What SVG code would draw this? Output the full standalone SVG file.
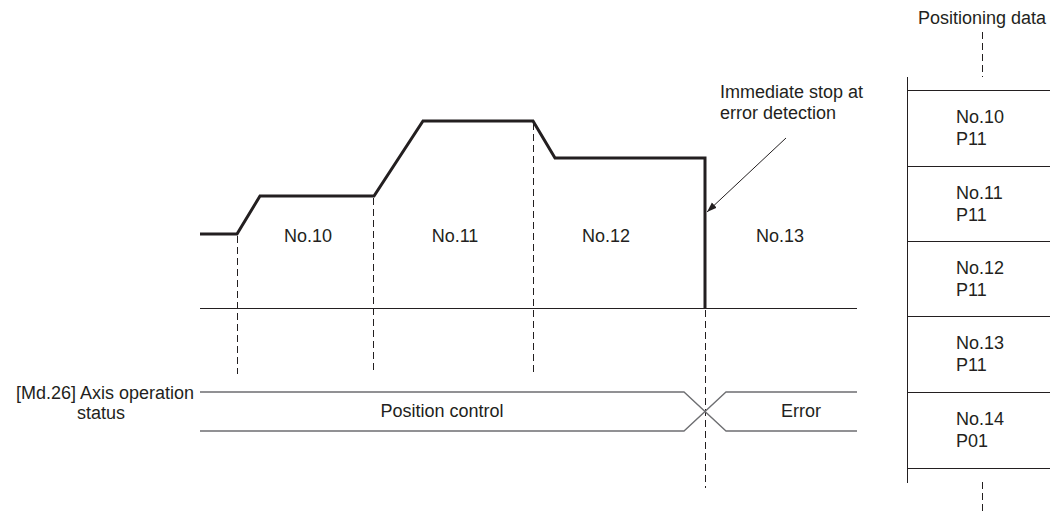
<svg xmlns="http://www.w3.org/2000/svg" width="1050" height="513" viewBox="0 0 1050 513">
<style>
text{font-family:"Liberation Sans",Arial,sans-serif;font-size:18px;fill:#231f20}
.mid{text-anchor:middle}
.dash{stroke:#231f20;stroke-width:1;stroke-dasharray:7 4;fill:none}
.thin{stroke:#231f20;stroke-width:1;fill:none}
.gray{stroke:#6d6e71;stroke-width:1.3;fill:none}
.prof{stroke:#231f20;stroke-width:3;fill:none;stroke-linejoin:miter}
</style>
<defs>
<marker id="ah" viewBox="0 0 10 10" refX="10" refY="5" markerWidth="10" markerHeight="10" markerUnits="userSpaceOnUse" orient="auto">
<path d="M0,1.5 L10,5 L0,8.5 Z" fill="#231f20"/>
</marker>
</defs>
<g id="connectors">
<line class="dash" x1="237.5" y1="236" x2="237.5" y2="374"/>
<line class="dash" x1="373.5" y1="198" x2="373.5" y2="374"/>
<line class="dash" x1="533.5" y1="123" x2="533.5" y2="374"/>
<line class="dash" x1="705.5" y1="310" x2="705.5" y2="488"/>
<line class="dash" x1="982.5" y1="32" x2="982.5" y2="77"/>
<line class="dash" x1="982.5" y1="482" x2="982.5" y2="513"/>
<line class="thin" x1="200" y1="308.5" x2="857" y2="308.5"/>
<line class="thin" x1="786" y1="138" x2="707" y2="212" marker-end="url(#ah)"/>
</g>
<g id="speed-profile">
<polyline class="prof" points="200,234 237,234 260,196 374,196 423,121 533,121 555,158 705,158 705,308"/>
</g>
<g id="segment-labels">
<text class="mid" x="308" y="242">No.10</text>
<text class="mid" x="455" y="242">No.11</text>
<text class="mid" x="606" y="242">No.12</text>
<text class="mid" x="780" y="242">No.13</text>
</g>
<g id="annotation">
<text x="720" y="98">Immediate stop at</text>
<text x="720" y="119">error detection</text>
</g>
<g id="axis-status">
<text style="text-anchor:end" x="194" y="399">[Md.26] Axis operation</text>
<text class="mid" x="101" y="419">status</text>
<polyline class="gray" points="200,392 684,392 726,431 857,431"/>
<polyline class="gray" points="200,431 684,431 726,392 857,392"/>
<text class="mid" x="442" y="417">Position control</text>
<text class="mid" x="801" y="417">Error</text>
</g>
<g id="positioning-data">
<text class="mid" x="982" y="24">Positioning data</text>
<line class="thin" x1="907.5" y1="77" x2="907.5" y2="483"/>
<line class="thin" x1="907" y1="90.5" x2="1050" y2="90.5"/>
<line class="thin" x1="907" y1="166.5" x2="1050" y2="166.5"/>
<line class="thin" x1="907" y1="241.5" x2="1050" y2="241.5"/>
<line class="thin" x1="907" y1="316.5" x2="1050" y2="316.5"/>
<line class="thin" x1="907" y1="392.5" x2="1050" y2="392.5"/>
<line class="thin" x1="907" y1="468.5" x2="1050" y2="468.5"/>
<g id="pd-10"><text x="956" y="123">No.10</text><text x="956" y="145">P11</text></g>
<g id="pd-11"><text x="956" y="199">No.11</text><text x="956" y="221">P11</text></g>
<g id="pd-12"><text x="956" y="274">No.12</text><text x="956" y="296">P11</text></g>
<g id="pd-13"><text x="956" y="349">No.13</text><text x="956" y="371">P11</text></g>
<g id="pd-14"><text x="956" y="425">No.14</text><text x="956" y="447">P01</text></g>
</g>
</svg>
